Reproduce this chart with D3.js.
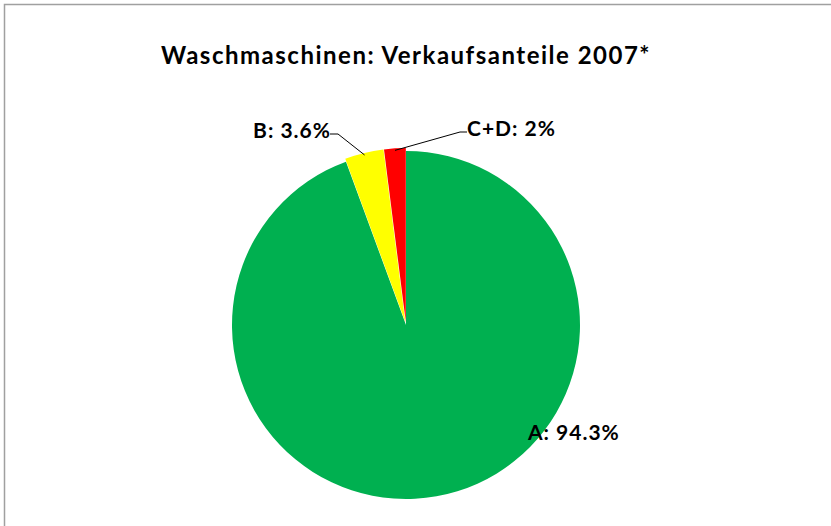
<!DOCTYPE html>
<html>
<head>
    <meta charset="utf-8">
    <title>Waschmaschinen: Verkaufsanteile 2007*</title>
    <script src="https://d3js.org/d3.v7.min.js"></script>
    <style>
        body { margin: 0; background: #fff; }
        text { font-family: Lato, "Open Sans", sans-serif; fill: #000; }
        .title { font-size: 24px; font-weight: bold; letter-spacing: 1.5px; }
        .label { font-size: 21px; font-weight: bold; letter-spacing: 1px; }
        .leader { stroke: #000; stroke-width: 1; fill: none; }
    </style>
</head>
<body>
    <svg id="chart" width="831" height="526"></svg>

    <script>
        // Data
        const categories = ['A', 'B', 'C+D'];
        const shares = [94.3, 3.6, 2];
        const labels = ['A: 94.3%', 'B: 3.6%', 'C+D: 2%'];
        const colors = ['#00B050', '#FFFF00', '#FF0000'];
        const exploded = [false, true, true];

        const svg = d3.select('#chart');
        const cx = 406, cy = 325, radius = 174;

        // Frame (only top and left edges fall inside the picture)
        svg.append('rect')
            .attr('x', 4.5).attr('y', 4.5)
            .attr('width', 900).attr('height', 600)
            .attr('fill', '#fff')
            .attr('stroke', '#a0a0a0')
            .attr('stroke-width', 1.5);

        svg.append('text')
            .attr('class', 'title')
            .attr('x', 406).attr('y', 64)
            .attr('text-anchor', 'middle')
            .text('Waschmaschinen: Verkaufsanteile 2007*');

        const pie = d3.pie().sort(null).value(d => d)
            .startAngle(0).endAngle(2 * Math.PI);
        const arcs = pie(shares);
        const arc = d3.arc().innerRadius(0).outerRadius(radius);

        const g = svg.append('g').attr('transform', `translate(${cx},${cy})`);

        // Small outward offset for the exploded slices
        function offset(d, i) {
            if (!exploded[i]) return [0, 0];
            const a = (d.startAngle + d.endAngle) / 2;
            return [Math.sin(a) * 3, -Math.cos(a) * 3];
        }

        g.selectAll('path')
            .data(arcs)
            .enter()
            .append('path')
            .attr('d', arc)
            .attr('fill', (d, i) => colors[i])
            .attr('transform', (d, i) => `translate(${offset(d, i)})`);

        // Label positions (text anchor point) and leader elbows
        const labelPos = [
            { x: 528, y: 440, anchor: 'start' },
            { x: 331, y: 138, anchor: 'end' },
            { x: 467, y: 136, anchor: 'start' }
        ];
        const elbows = [null, [338, 134], [460, 132]];
        const starts = [null, [330, 134], [467, 132]];

        g.selectAll('text')
            .data(arcs)
            .enter()
            .append('text')
            .attr('class', 'label')
            .attr('x', (d, i) => labelPos[i].x - cx)
            .attr('y', (d, i) => labelPos[i].y - cy)
            .attr('text-anchor', (d, i) => labelPos[i].anchor)
            .text((d, i) => labels[i]);

        // Leader lines to the slice edges
        arcs.forEach((d, i) => {
            if (!elbows[i]) return;
            const a = (d.startAngle + d.endAngle) / 2;
            const off = offset(d, i);
            const r = radius - 2;
            const end = [Math.sin(a) * r + off[0], -Math.cos(a) * r + off[1]];
            const pts = [
                [starts[i][0] - cx, starts[i][1] - cy],
                [elbows[i][0] - cx, elbows[i][1] - cy],
                end
            ];
            g.append('path')
                .attr('class', 'leader')
                .attr('d', d3.line()(pts));
        });
    </script>
</body>
</html>
